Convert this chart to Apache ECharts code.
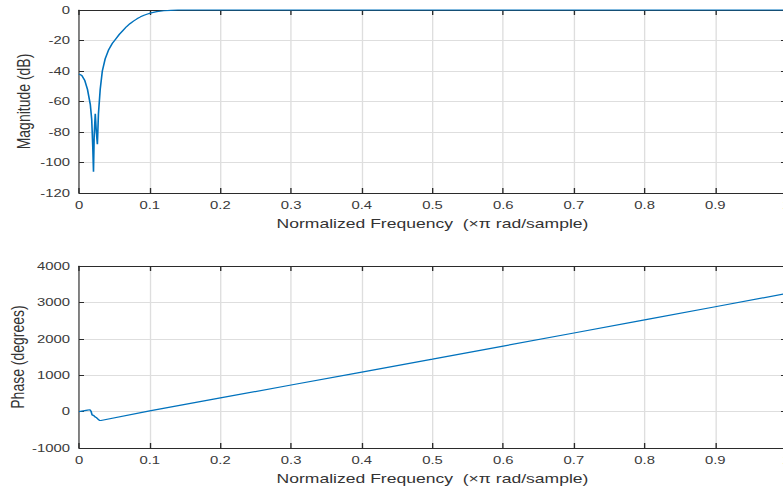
<!DOCTYPE html>
<html>
<head>
<meta charset="utf-8">
<script src="https://cdn.jsdelivr.net/npm/echarts@6/dist/echarts.min.js"></script>
<style>
  html, body { margin: 0; padding: 0; background: #fff; overflow: hidden; }
  #wrap { width: 783px; height: 486px; overflow: hidden; }
  /* the figure is drawn narrow and widened horizontally, like the exported plot */
  #chart { width: 593px; height: 486px; transform: scaleX(1.35); transform-origin: 0 0; }
</style>
</head>
<body>
<div id="wrap"><div id="chart"></div></div>
<script>
// Frequency response of a highpass FIR filter: magnitude and phase.
const magFreq = [0, 0.004, 0.008, 0.012, 0.016, 0.018, 0.0195, 0.0205, 0.0215, 0.023, 0.0245, 0.026,
  0.0275, 0.03, 0.033, 0.037, 0.042, 0.047, 0.052, 0.057, 0.062, 0.067, 0.072, 0.077, 0.082,
  0.087, 0.092, 0.097, 0.102, 0.11, 0.12, 0.13, 0.14, 0.2, 0.3, 0.4, 0.5, 0.6, 0.7, 0.8, 0.9, 1.0];
const magDb = [-42, -43, -46, -52, -62, -72, -90, -106, -82, -68, -80, -88,
  -68, -52, -40, -32, -26, -22, -19, -16, -13.5, -11, -9, -7.3, -5.8,
  -4.5, -3.4, -2.6, -1.9, -1.1, -0.5, -0.2, 0, 0, 0, 0, 0, 0, 0, 0, 0, 0];

const phaseFreq = [0, 0.006, 0.012, 0.0155, 0.017, 0.0185, 0.021, 0.023, 0.025, 0.027, 0.029, 0.031,
  0.1, 0.2, 0.3, 0.4, 0.5, 0.6, 0.7, 0.8, 0.9, 1.0];
const phaseDeg = [0, 20, 40, 50, 10, -90, -110, -150, -170, -210, -240, -245,
  20, 375, 730, 1085, 1440, 1800, 2160, 2520, 2880, 3240];

const magTicks = [-120, -100, -80, -60, -40, -20, 0];
const phaseTicks = [-1000, 0, 1000, 2000, 3000, 4000];
const freqTicks = [0, 0.1, 0.2, 0.3, 0.4, 0.5, 0.6, 0.7, 0.8, 0.9, 1];

const xName = 'Normalized Frequency  (\u00d7\u03c0 rad/sample)';
const font = '"Liberation Sans", Arial, Helvetica, sans-serif';
const labelColor = '#3a3a3a';
const lineColor = '#0072BD';
const gridColor = '#dedede';
const frameColor = '#2b2b2b';
const sx = 1.35; // horizontal widening applied by CSS

const pairs = (xs, ys) => xs.map((x, i) => [x, ys[i]]);
const plain = v => String(+v.toFixed(2));

function mainX(gridIndex) {
  return {
    type: 'value', gridIndex, min: freqTicks[0], max: freqTicks[freqTicks.length - 1],
    interval: freqTicks[1] - freqTicks[0],
    name: xName, nameLocation: 'middle', nameGap: 24, nameMoveOverlap: false,
    nameTextStyle: { fontFamily: font, fontSize: 13, color: '#333' },
    axisLine: { show: true, onZero: false, lineStyle: { color: frameColor, width: 1 } },
    axisTick: { show: true, inside: true, length: 5, lineStyle: { color: frameColor } },
    axisLabel: { fontFamily: font, fontSize: 11, color: labelColor, margin: 7, formatter: plain },
    splitLine: { show: true, lineStyle: { color: gridColor, width: 1 } }
  };
}
function frameX(gridIndex) {
  return {
    type: 'value', gridIndex, position: 'top', min: freqTicks[0], max: freqTicks[freqTicks.length - 1],
    interval: freqTicks[1] - freqTicks[0],
    axisLine: { show: true, onZero: false, lineStyle: { color: frameColor, width: 1 } },
    axisTick: { show: true, inside: true, length: 5, lineStyle: { color: frameColor } },
    axisLabel: { show: false }, splitLine: { show: false }
  };
}
function mainY(gridIndex, ticks, name, gap) {
  return {
    type: 'value', gridIndex, min: ticks[0], max: ticks[ticks.length - 1], interval: ticks[1] - ticks[0],
    name, nameLocation: 'middle', nameGap: gap, nameRotate: 90, nameMoveOverlap: false,
    nameTextStyle: { fontFamily: font, fontSize: 14, color: '#333' },
    axisLine: { show: true, onZero: false, lineStyle: { color: frameColor, width: 0.8 } },
    axisTick: { show: true, inside: true, length: 5 / sx, lineStyle: { color: frameColor } },
    axisLabel: { fontFamily: font, fontSize: 11, color: labelColor, margin: 9 / sx, formatter: plain },
    splitLine: { show: true, lineStyle: { color: gridColor, width: 1 } }
  };
}
function frameY(gridIndex, ticks) {
  return {
    type: 'value', gridIndex, position: 'right', min: ticks[0], max: ticks[ticks.length - 1],
    interval: ticks[1] - ticks[0],
    axisLine: { show: true, onZero: false, lineStyle: { color: frameColor, width: 0.8 } },
    axisTick: { show: true, inside: true, length: 5 / sx, lineStyle: { color: frameColor } },
    axisLabel: { show: false }, splitLine: { show: false }
  };
}

const chart = echarts.init(document.getElementById('chart'), null, { renderer: 'svg' });
chart.setOption({
  animation: false,
  backgroundColor: '#ffffff',
  grid: [
    { left: 79 / sx, top: 10, width: 707 / sx, height: 183, outerBoundsMode: 'none', containLabel: false },
    { left: 79 / sx, top: 266, width: 707 / sx, height: 182, outerBoundsMode: 'none', containLabel: false }
  ],
  xAxis: [mainX(0), frameX(0), mainX(1), frameX(1)],
  yAxis: [
    mainY(0, magTicks, 'Magnitude (dB)', 46 / sx), frameY(0, magTicks),
    mainY(1, phaseTicks, 'Phase (degrees)', 52 / sx), frameY(1, phaseTicks)
  ],
  series: [
    { type: 'line', xAxisIndex: 0, yAxisIndex: 0, data: pairs(magFreq, magDb),
      showSymbol: false, clip: false, smooth: false,
      lineStyle: { color: lineColor, width: 1.2 }, z: 5 },
    { type: 'line', xAxisIndex: 2, yAxisIndex: 2, data: pairs(phaseFreq, phaseDeg),
      showSymbol: false, clip: false, smooth: false,
      lineStyle: { color: lineColor, width: 1.2 }, z: 5 }
  ]
});
</script>
</body>
</html>
